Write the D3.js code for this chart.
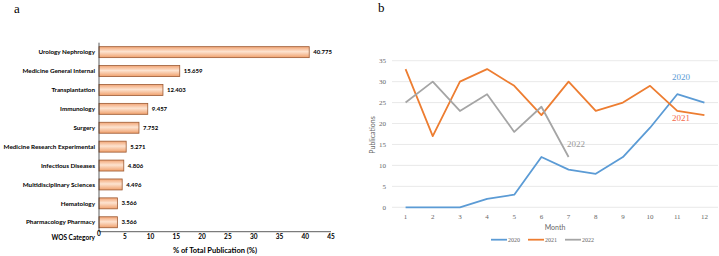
<!DOCTYPE html>
<html>
<head>
<meta charset="utf-8">
<script src="https://cdn.jsdelivr.net/npm/d3@7"></script>
<style>
  body { margin: 0; background: #fff; }
  svg { display: block; }
</style>
</head>
<body>
<div id="chart"></div>
<script>
// Panel a data
const categories = ["Urology Nephrology", "Medicine General Internal", "Transplantation", "Immunology",
  "Surgery", "Medicine Research Experimental", "Infectious Diseases", "Multidisciplinary Sciences",
  "Hematology", "Pharmacology Pharmacy"];
const shares = [40.775, 15.659, 12.403, 9.457, 7.752, 5.271, 4.806, 4.496, 3.566, 3.566];
const shareLabels = ["40.775", "15.659", "12.403", "9.457", "7.752", "5.271", "4.806", "4.496", "3.566", "3.566"];
const shareTicks = [0, 5, 10, 15, 20, 25, 30, 35, 40, 45];

// Panel b data
const months = [1, 2, 3, 4, 5, 6, 7, 8, 9, 10, 11, 12];
const years = ["2020", "2021", "2022"];
const pub2020 = [0, 0, 0, 2, 3, 12, 9, 8, 12, 19, 27, 25];
const pub2021 = [33, 17, 30, 33, 29, 22, 30, 23, 25, 29, 23, 22];
const pub2022 = [25, 30, 23, 27, 18, 24, 12];
const pubTicks = [0, 5, 10, 15, 20, 25, 30, 35];

const svg = d3.select("#chart").append("svg")
  .attr("width", 719)
  .attr("height", 256);

// gradient for the bars
const grad = svg.append("defs").append("linearGradient")
  .attr("id", "barGrad").attr("x1", 0).attr("y1", 0).attr("x2", 0).attr("y2", 1);
grad.append("stop").attr("offset", "0%").attr("stop-color", "#f2a474");
grad.append("stop").attr("offset", "45%").attr("stop-color", "#fde3d0");
grad.append("stop").attr("offset", "100%").attr("stop-color", "#f0a06c");

// ---------- panel a ----------
svg.append("text")
  .attr("x", 14).attr("y", 13)
  .style("font-family", "Liberation Serif").style("font-size", "13px")
  .text("a");

const xA = d3.scaleLinear().domain([0, 45]).range([99, 331]);
const yA = d3.scaleBand().domain(categories).range([42.7, 231.7]).paddingInner(0.42).paddingOuter(0.21);

const gA = svg.append("g");

gA.selectAll(".bar")
  .data(categories)
  .enter().append("rect")
  .attr("class", "bar")
  .attr("x", xA(0))
  .attr("y", d => yA(d))
  .attr("width", (d, i) => xA(shares[i]) - xA(0))
  .attr("height", yA.bandwidth())
  .attr("fill", "url(#barGrad)")
  .attr("stroke", "#9c5a33")
  .attr("stroke-width", 0.8);

gA.selectAll(".val")
  .data(categories)
  .enter().append("text")
  .attr("x", (d, i) => xA(shares[i]) + 4)
  .attr("y", d => yA(d) + yA.bandwidth() / 2)
  .attr("dy", "0.35em")
  .style("font-family", "Lato").style("font-weight", "bold").style("font-size", "6px")
  .text((d, i) => shareLabels[i]);

gA.selectAll(".cat")
  .data(categories)
  .enter().append("text")
  .attr("x", 95)
  .attr("y", d => yA(d) + yA.bandwidth() / 2)
  .attr("dy", "0.35em")
  .attr("text-anchor", "end")
  .style("font-family", "Lato").style("font-weight", "bold").style("font-size", "6.3px")
  .text(d => d);

// axes lines
gA.append("line").attr("x1", xA(0)).attr("x2", xA(0)).attr("y1", 42.7).attr("y2", 231.7)
  .attr("stroke", "#333").attr("stroke-width", 0.8);
gA.append("line").attr("x1", xA(0)).attr("x2", xA(45)).attr("y1", 231.7).attr("y2", 231.7)
  .attr("stroke", "#333").attr("stroke-width", 0.8);

gA.selectAll(".tickA")
  .data(shareTicks)
  .enter().append("text")
  .attr("x", d => xA(d))
  .attr("y", d => d === 0 ? 236 : 239)
  .attr("text-anchor", "middle")
  .style("font-family", "Lato").style("font-weight", "bold").style("font-size", "6.5px")
  .text(d => d);

gA.append("text")
  .attr("x", 95).attr("y", 240)
  .attr("text-anchor", "end")
  .style("font-family", "Lato").style("font-weight", "bold").style("font-size", "6.5px")
  .text("WOS Category");

gA.append("text")
  .attr("x", 215).attr("y", 253)
  .attr("text-anchor", "middle")
  .style("font-family", "Lato").style("font-weight", "bold").style("font-size", "7.5px")
  .text("% of Total Publication (%)");

// ---------- panel b ----------
svg.append("text")
  .attr("x", 378).attr("y", 12)
  .style("font-family", "Liberation Serif").style("font-size", "13px")
  .text("b");

const xB = d3.scaleBand().domain(months).range([392, 718]);
const yB = d3.scaleLinear().domain([0, 35]).range([207.3, 60.7]);
const colors = { "2020": "#5b9bd5", "2021": "#ed7d31", "2022": "#a5a5a5" };
const series = { "2020": pub2020, "2021": pub2021, "2022": pub2022 };

const gB = svg.append("g");

gB.selectAll(".grid")
  .data(pubTicks)
  .enter().append("line")
  .attr("x1", 392).attr("x2", 718)
  .attr("y1", d => yB(d)).attr("y2", d => yB(d))
  .attr("stroke", "#e3e3e3").attr("stroke-width", 0.8);

gB.selectAll(".tickY")
  .data(pubTicks)
  .enter().append("text")
  .attr("x", 386)
  .attr("y", d => yB(d))
  .attr("dy", "0.35em")
  .attr("text-anchor", "end")
  .attr("fill", "#666")
  .style("font-family", "Liberation Serif").style("font-size", "7px")
  .text(d => d);

gB.selectAll(".tickX")
  .data(months)
  .enter().append("text")
  .attr("x", d => xB(d) + xB.bandwidth() / 2)
  .attr("y", 219)
  .attr("text-anchor", "middle")
  .attr("fill", "#666")
  .style("font-family", "Liberation Serif").style("font-size", "7px")
  .text(d => d);

gB.append("text")
  .attr("x", 555).attr("y", 230)
  .attr("text-anchor", "middle")
  .attr("fill", "#666")
  .style("font-family", "Lato").style("font-size", "7px")
  .text("Month");

gB.append("text")
  .attr("transform", "translate(375,135) rotate(-90)")
  .attr("text-anchor", "middle")
  .attr("fill", "#666")
  .style("font-family", "Lato").style("font-size", "7px")
  .text("Publications");

const line = d3.line()
  .x((d, i) => xB(months[i]) + xB.bandwidth() / 2)
  .y(d => yB(d));

years.forEach(function(yr) {
  gB.append("path")
    .datum(series[yr])
    .attr("d", line)
    .attr("fill", "none")
    .attr("stroke", colors[yr])
    .attr("stroke-width", 1.8)
    .attr("stroke-linejoin", "round");
});

// in-chart labels
const inLabels = [
  { yr: "2020", x: 672, y: 80, fill: "#5b9bd5" },
  { yr: "2021", x: 672, y: 121, fill: "#f4694a" },
  { yr: "2022", x: 567, y: 147, fill: "#999" }
];
gB.selectAll(".inlab")
  .data(inLabels)
  .enter().append("text")
  .attr("x", d => d.x).attr("y", d => d.y)
  .attr("fill", d => d.fill)
  .style("font-family", "Liberation Serif").style("font-size", "9px")
  .text(d => d.yr);

// legend
const legendX = [491, 528, 565];
years.forEach(function(yr, i) {
  gB.append("line")
    .attr("x1", legendX[i]).attr("x2", legendX[i] + 16)
    .attr("y1", 239.7).attr("y2", 239.7)
    .attr("stroke", colors[yr]).attr("stroke-width", 1.8);
  gB.append("text")
    .attr("x", legendX[i] + 17).attr("y", 239.7)
    .attr("dy", "0.35em")
    .attr("fill", "#666")
    .style("font-family", "Liberation Serif").style("font-size", "6px")
    .text(yr);
});
</script>
</body>
</html>
